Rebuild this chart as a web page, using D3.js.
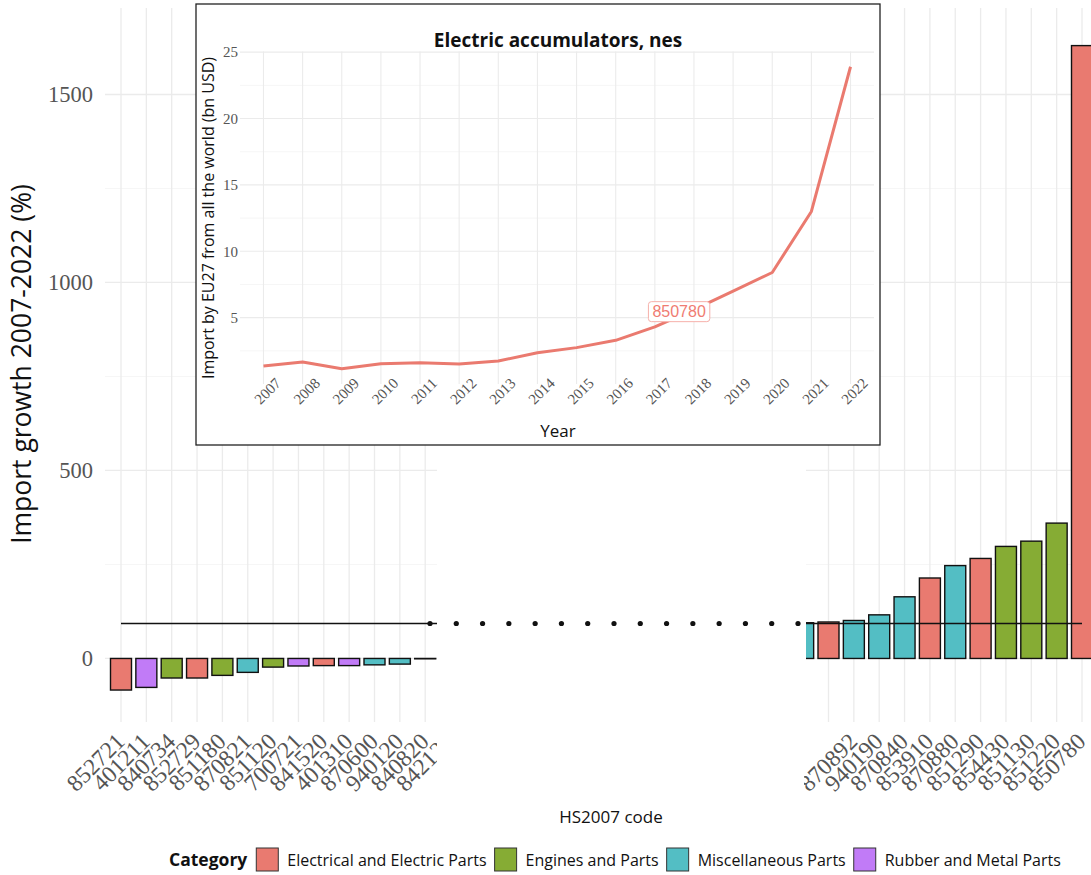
<!DOCTYPE html>
<html>
<head>
<meta charset="utf-8">
<script src="https://cdn.jsdelivr.net/npm/d3@7"></script>
<style>
  body { margin: 0; background: #fff; }
  svg { display: block; }
</style>
</head>
<body>
<svg id="chart" width="1091" height="875"></svg>
<script>
// ── Data ────────────────────────────────────────────────────────────────
// Left part of the broken axis: the lowest growth rates (last code is cut off)
const leftCodes  = ["852721","401211","840734","852729","851180","870821","851120",
                    "700721","841520","401310","870600","940120","840820","842123"];
const leftGrowth = [-84, -77, -52, -52, -45, -37, -23, -20, -19, -19, -17, -15, -1, null];
const leftCat    = ["Electrical and Electric Parts","Rubber and Metal Parts","Engines and Parts",
                    "Electrical and Electric Parts","Engines and Parts","Miscellaneous Parts",
                    "Engines and Parts","Rubber and Metal Parts","Electrical and Electric Parts",
                    "Rubber and Metal Parts","Miscellaneous Parts","Miscellaneous Parts",
                    "Engines and Parts","Engines and Parts"];

// Right part: the highest growth rates (first two bars have no readable label)
const rightCodes  = [null, null, "870892","940190","870840","853910","870880",
                     "851290","854430","851130","851220","850780"];
const rightGrowth = [95, 97, 101, 116, 164, 214, 247, 266, 298, 312, 360, 1630];
const rightCat    = ["Miscellaneous Parts","Electrical and Electric Parts","Miscellaneous Parts",
                     "Miscellaneous Parts","Miscellaneous Parts","Electrical and Electric Parts",
                     "Miscellaneous Parts","Electrical and Electric Parts","Engines and Parts",
                     "Engines and Parts","Engines and Parts","Electrical and Electric Parts"];

const meanGrowth = 93;          // horizontal reference line
const gapDots    = 15;          // dots drawn across the axis break

const yTicksMajor = [0, 500, 1000, 1500];
const yTicksMinor = [250, 750, 1250];

const categories = ["Electrical and Electric Parts","Engines and Parts",
                    "Miscellaneous Parts","Rubber and Metal Parts"];
const catColors  = ["#E97A70", "#86AC34", "#53BEC4", "#C17BF7"];

// Inset: yearly imports of 850780
const years   = d3.range(2007, 2023);
const imports = [1.35, 1.65, 1.15, 1.53, 1.60, 1.50, 1.73, 2.36, 2.74, 3.29,
                 4.30, 5.60, 7.00, 8.40, 13.0, 23.9];
const insetLabel = { text: "850780", year: 2017.62, value: 5.45 };
const insetTicksMajor = [5, 10, 15, 20, 25];
const insetTicksMinor = [2.5, 7.5, 12.5, 17.5, 22.5];

// ── Setup ───────────────────────────────────────────────────────────────
const svg = d3.select("#chart");
const color = d3.scaleOrdinal().domain(categories).range(catColors);

const SERIF = "'Liberation Serif', 'DejaVu Serif', serif";
const SANS  = "'Open Sans', Lato, sans-serif";
const GRID  = "#EBEBEB";
const GRID_MINOR = "#F4F4F4";
const TICK  = "#555";

const y = d3.scaleLinear().domain([-169, 1730]).range([722, 8]);
const STEP = 25.35;
const BW   = 21;

const xL = d3.scalePoint()
  .domain(leftCodes.map((d, i) => i))
  .range([121, 121 + STEP * (leftCodes.length - 1)]);
const xR = d3.scalePoint()
  .domain(rightCodes.map((d, i) => i))
  .range([1082 - STEP * (rightCodes.length - 1), 1082]);

const panels = [
  { id: "L", x0: 105, x1: 437, x: xL, codes: leftCodes,  growth: leftGrowth,  cats: leftCat,
    labelClip: [0, 437] },
  { id: "R", x0: 806, x1: 1091, x: xR, codes: rightCodes, growth: rightGrowth, cats: rightCat,
    labelClip: [804, 1091] },
];

const defs = svg.append("defs");
panels.forEach(p => {
  defs.append("clipPath").attr("id", "clip" + p.id)
    .append("rect").attr("x", p.x0).attr("y", 0).attr("width", p.x1 - p.x0).attr("height", 730);
  defs.append("clipPath").attr("id", "lab" + p.id)
    .append("rect").attr("x", p.labelClip[0]).attr("y", 722)
    .attr("width", p.labelClip[1] - p.labelClip[0]).attr("height", 100);
});

// ── Panels: grid, bars, reference line ─────────────────────────────────
panels.forEach(p => {
  const g = svg.append("g").attr("clip-path", `url(#clip${p.id})`);

  g.selectAll("line.hmin").data(yTicksMinor).join("line")
    .attr("x1", p.x0).attr("x2", p.x1)
    .attr("y1", d => y(d)).attr("y2", d => y(d))
    .attr("stroke", GRID_MINOR).attr("stroke-width", 0.8);
  g.selectAll("line.hmaj").data(yTicksMajor).join("line")
    .attr("x1", p.x0).attr("x2", p.x1)
    .attr("y1", d => y(d)).attr("y2", d => y(d))
    .attr("stroke", GRID).attr("stroke-width", 1.3);
  g.selectAll("line.v").data(p.codes.map((d, i) => i)).join("line")
    .attr("x1", d => p.x(d)).attr("x2", d => p.x(d))
    .attr("y1", 8).attr("y2", 722)
    .attr("stroke", GRID).attr("stroke-width", 1.3);

  const bars = p.growth.map((v, i) => ({ i, v, cat: p.cats[i] })).filter(d => d.v != null);
  g.selectAll("rect.bar").data(bars).join("rect")
    .attr("x", d => p.x(d.i) - BW / 2)
    .attr("width", BW)
    .attr("y", d => y(Math.max(0, d.v)))
    .attr("height", d => Math.abs(y(d.v) - y(0)))
    .attr("fill", d => color(d.cat))
    .attr("stroke", "#111").attr("stroke-width", 1.4);

  // mean line, from first category to last category across the break
  const xa = p.id === "L" ? p.x(0) : p.x0;
  const xb = p.id === "L" ? p.x1 : p.x(p.codes.length - 1);
  g.append("line")
    .attr("x1", xa).attr("x2", xb)
    .attr("y1", y(meanGrowth)).attr("y2", y(meanGrowth))
    .attr("stroke", "#111").attr("stroke-width", 1.6);

  // x labels
  const lab = svg.append("g").attr("clip-path", `url(#lab${p.id})`);
  lab.selectAll("text").data(p.codes.map((c, i) => ({ c, i })).filter(d => d.c)).join("text")
    .attr("transform", d => `translate(${p.x(d.i) + 5},743) rotate(-45)`)
    .attr("text-anchor", "end")
    .attr("font-family", SERIF).attr("font-size", 23.5).attr("fill", TICK)
    .text(d => d.c);
});

// dots marking the axis break
const dotX = d3.scaleLinear().domain([0, gapDots - 1]).range([430, 798]);
svg.append("g").selectAll("circle").data(d3.range(gapDots)).join("circle")
  .attr("cx", d => dotX(d)).attr("cy", y(meanGrowth)).attr("r", 2.6).attr("fill", "#111");

// y axis
const yAxis = svg.append("g").attr("transform", "translate(97,0)")
  .call(d3.axisLeft(y).tickValues(yTicksMajor).tickFormat(d3.format("d"))
    .tickSize(0).tickPadding(4));
yAxis.select(".domain").remove();
yAxis.selectAll("text")
  .attr("font-family", SERIF).attr("font-size", 22.5).attr("fill", TICK);

// axis titles
svg.append("text")
  .attr("transform", "translate(31,364) rotate(-90)")
  .attr("text-anchor", "middle")
  .attr("font-family", SANS).attr("font-size", 26.5).attr("fill", "#111")
  .text("Import growth 2007-2022 (%)");
svg.append("text")
  .attr("x", 611).attr("y", 823).attr("text-anchor", "middle")
  .attr("font-family", SANS).attr("font-size", 17).attr("fill", "#111")
  .text("HS2007 code");

// ── Legend ──────────────────────────────────────────────────────────────
const leg = svg.append("g").attr("transform", "translate(0,860)");
const legTitle = leg.append("text").attr("x", 169).attr("y", 6)
  .attr("font-family", SANS).attr("font-size", 17.5).attr("font-weight", 700).attr("fill", "#111")
  .text("Category");
let lx = 169 + legTitle.node().getComputedTextLength() + 9;
categories.forEach(c => {
  leg.append("rect").attr("x", lx).attr("y", -12).attr("width", 22).attr("height", 23)
    .attr("fill", color(c)).attr("stroke", "#333").attr("stroke-width", 1);
  const t = leg.append("text").attr("x", lx + 31).attr("y", 6)
    .attr("font-family", SANS).attr("font-size", 16).attr("fill", "#111").text(c);
  lx += 31 + t.node().getComputedTextLength() + 8;
});

// ── Inset ───────────────────────────────────────────────────────────────
const ins = svg.append("g");
ins.append("rect").attr("x", 196).attr("y", 4).attr("width", 684).attr("height", 441)
  .attr("fill", "#fff").attr("stroke", "#222").attr("stroke-width", 1.3);

const ix = d3.scaleLinear().domain([2006.4, 2022.6]).range([240, 874]);
const iy = d3.scaleLinear().domain([0, 25.05]).range([384, 51.5]);

ins.selectAll("line.hmin").data(insetTicksMinor).join("line")
  .attr("x1", 240).attr("x2", 874).attr("y1", d => iy(d)).attr("y2", d => iy(d))
  .attr("stroke", GRID_MINOR).attr("stroke-width", 0.8);
ins.selectAll("line.hmaj").data(insetTicksMajor).join("line")
  .attr("x1", 240).attr("x2", 874).attr("y1", d => iy(d)).attr("y2", d => iy(d))
  .attr("stroke", GRID).attr("stroke-width", 1.1);
ins.selectAll("line.v").data(years).join("line")
  .attr("x1", d => ix(d)).attr("x2", d => ix(d)).attr("y1", 51.5).attr("y2", 384)
  .attr("stroke", GRID).attr("stroke-width", 1.1);

ins.append("path")
  .datum(years.map((yr, i) => [yr, imports[i]]))
  .attr("d", d3.line().x(d => ix(d[0])).y(d => iy(d[1])))
  .attr("fill", "none").attr("stroke", "#EA7A6F").attr("stroke-width", 3)
  .attr("stroke-linejoin", "round");

// label box
const lg = ins.append("g")
  .attr("transform", `translate(${ix(insetLabel.year)},${iy(insetLabel.value)})`);
const lt = lg.append("text").attr("text-anchor", "middle").attr("dy", "0.36em")
  .attr("font-family", "'Liberation Sans', Arial, sans-serif").attr("font-size", 16)
  .attr("fill", "#F07C72").text(insetLabel.text);
const lw = lt.node().getComputedTextLength();
lg.insert("rect", "text")
  .attr("x", -lw / 2 - 4).attr("y", -10).attr("width", lw + 8).attr("height", 20).attr("rx", 3)
  .attr("fill", "#fff").attr("stroke", "#F6B0AA").attr("stroke-width", 1);

// inset axes
ins.selectAll("text.iyt").data(insetTicksMajor).join("text")
  .attr("x", 238).attr("y", d => iy(d)).attr("dy", "0.35em").attr("text-anchor", "end")
  .attr("font-family", SERIF).attr("font-size", 15).attr("fill", TICK)
  .text(d => d);
ins.selectAll("text.ixt").data(years).join("text")
  .attr("transform", d => `translate(${ix(d) + 4},391) rotate(-45)`)
  .attr("text-anchor", "middle").attr("dy", "0.35em")
  .attr("font-family", SERIF).attr("font-size", 15).attr("fill", TICK)
  .text(d => d);

ins.append("text").attr("x", 558).attr("y", 47).attr("text-anchor", "middle")
  .attr("font-family", SANS).attr("font-size", 19).attr("font-weight", 700).attr("fill", "#111")
  .text("Electric accumulators, nes");
ins.append("text").attr("x", 558).attr("y", 437).attr("text-anchor", "middle")
  .attr("font-family", SANS).attr("font-size", 17).attr("fill", "#111")
  .text("Year");
ins.append("text")
  .attr("transform", "translate(214,218) rotate(-90)").attr("text-anchor", "middle")
  .attr("font-family", SANS).attr("font-size", 16).attr("fill", "#111")
  .text("Import by EU27 from all the world (bn USD)");
</script>
</body>
</html>
